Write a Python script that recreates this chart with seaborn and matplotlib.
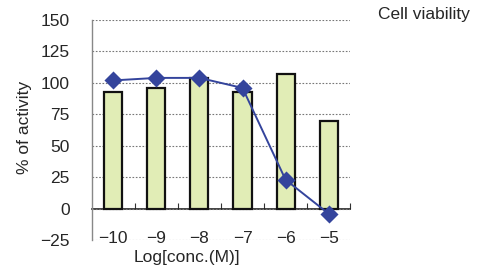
import numpy as np
import pandas as pd
import matplotlib
matplotlib.use("Agg")
import matplotlib.pyplot as plt
import seaborn as sns

# datos
conc_labels = ["\u221210", "\u22129", "\u22128", "\u22127", "\u22126", "\u22125"]
activity = [93, 96, 104, 93, 107, 70]          # barras
viability = [102, 104, 104, 96, 23, -4]         # linea (Cell viability)
y_ticks = [-25, 0, 25, 50, 75, 100, 125, 150]

sns.set_style("white")
plt.rcParams["font.family"] = ["Liberation Sans", "DejaVu Sans"]
plt.rcParams["font.size"] = 12.5

datos = pd.DataFrame({"conc": conc_labels, "activity": activity, "viability": viability})

fig = plt.figure(figsize=(4.83, 2.71), dpi=100)
ax = fig.add_axes([0.19, 0.114, 0.535, 0.812])

ax.set_axisbelow(True)
ax.yaxis.grid(True, linestyle=(0, (1.5, 1.5)), color="#777777", linewidth=0.8)

sns.barplot(data=datos, x="conc", y="activity", color="#e1edb6", saturation=1,
            edgecolor="#111111", linewidth=1.6, width=0.42, ax=ax, zorder=2)
sns.pointplot(data=datos, x="conc", y="viability", color="#34449c", markers="D",
              markersize=8, linewidth=1.4, ax=ax, zorder=4)

n = len(conc_labels)
ax.set_xlim(-0.5, n - 0.5)
ax.set_ylim(y_ticks[0], y_ticks[-1])
ax.set_yticks(y_ticks)
ax.tick_params(axis="y", length=0, pad=16, labelsize=12.5)
ax.tick_params(axis="x", length=0, pad=-1, labelsize=12.5)
for lab in ax.get_xticklabels():
    lab.set_va("center")

for s in ["top", "right", "bottom"]:
    ax.spines[s].set_visible(False)
ax.spines["left"].set_color("#888888")
ax.spines["left"].set_linewidth(1.0)

# eje en y = 0 con marcas entre categorias
loc0 = (0 - y_ticks[0]) / (y_ticks[-1] - y_ticks[0])
sec = ax.secondary_xaxis(loc0)
sec.set_xticks(np.arange(n) + 0.5)
sec.set_xticklabels([])
sec.tick_params(axis="x", direction="in", length=4, width=0.8, color="#333333")
sec.spines["bottom"].set_color("#222222")
sec.spines["bottom"].set_linewidth(1.2)

ax.set_xlabel("Log[conc.(M)]", fontsize=12.5)
ax.set_ylabel("% of activity", fontsize=12.5)
ax.xaxis.set_label_coords(0.37, -0.045)
ax.yaxis.set_label_coords(-0.23, 0.51)

fig.text(0.783, 0.945, "Cell viability", fontsize=12.5, va="center", ha="left")

plt.savefig("out.png", dpi=100)
